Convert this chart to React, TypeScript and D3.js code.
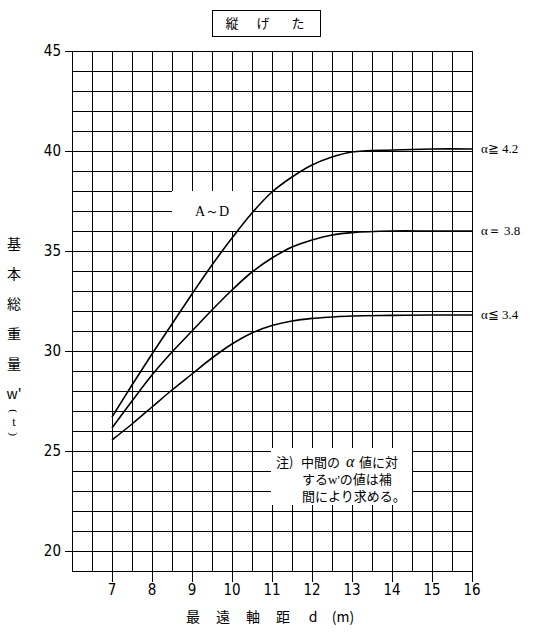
import React from 'react'
import * as d3 from 'd3'

const distances = [7, 7.5, 8, 8.5, 9, 9.5, 10, 10.5, 11, 11.5, 12, 12.5, 13, 14, 15, 16]
const weightHigh = [26.7, 28.3, 29.85, 31.35, 32.85, 34.3, 35.65, 36.9, 37.95, 38.7, 39.3, 39.7, 39.95, 40.05, 40.1, 40.1]
const weightMid = [26.15, 27.5, 28.8, 29.95, 31.0, 32.05, 33.05, 33.95, 34.65, 35.2, 35.55, 35.8, 35.92, 36.0, 36.0, 36.0]
const weightLow = [25.55, 26.35, 27.2, 28.05, 28.85, 29.65, 30.35, 30.9, 31.27, 31.5, 31.63, 31.7, 31.75, 31.78, 31.8, 31.8]
const seriesLabels = ['α≧ 4.2', 'α＝ 3.8', 'α≦ 3.4']
const xTicks = [7, 8, 9, 10, 11, 12, 13, 14, 15, 16]
const yTicks = [20, 25, 30, 35, 40, 45]
const yTitle = ['基', '本', '総', '重', '量', "w'"]
const xTitle = ['最', '遠', '軸', '距', 'd', '(m)']

const jp = '"Noto Sans CJK JP", sans-serif'
const serif = '"Liberation Serif", "DejaVu Serif", serif'
const num = '"Liberation Sans Narrow", "DejaVu Sans Condensed", "Liberation Sans", sans-serif'

export default function App() {
  const width = 535
  const height = 632
  const margin = { top: 51, right: 63, bottom: 61, left: 72 }
  const x = d3.scaleLinear().domain([6, 16]).range([margin.left, width - margin.right])
  const y = d3.scaleLinear().domain([19, 45]).range([height - margin.bottom, margin.top])

  const line = d3.line<[number, number]>()
    .x(d => x(d[0]))
    .y(d => y(d[1]))
    .curve(d3.curveCatmullRom.alpha(0.5))

  const series = [weightHigh, weightMid, weightLow]
  const vGrid = d3.range(6, 16.01, 0.5)
  const hGrid = d3.range(19, 45.01, 1)

  return (
    <svg width={width} height={height} style={{ position: 'absolute', left: 0, top: 0, background: '#fff' }}>
      <rect x={0} y={0} width={width} height={height} fill="#fff" />
      {/* grid */}
      <g stroke="#000" strokeWidth={1} shapeRendering="crispEdges">
        {vGrid.map(v => (
          <line key={'v' + v} x1={x(v)} x2={x(v)} y1={y(19)} y2={y(45)} />
        ))}
        {hGrid.map(v => (
          <line key={'h' + v} x1={x(6)} x2={x(16)} y1={y(v)} y2={y(v)} />
        ))}
        {xTicks.map(t => (
          <line key={'xt' + t} x1={x(t)} x2={x(t)} y1={y(19)} y2={y(19) + 11} />
        ))}
        {yTicks.map(t => (
          <line key={'yt' + t} x1={x(6) - 7} x2={x(6)} y1={y(t)} y2={y(t)} />
        ))}
      </g>

      {/* white label boxes over grid */}
      <rect x={x(8.5)} y={y(38)} width={x(10.5) - x(8.5)} height={y(36) - y(38)} fill="#fff" />
      <text x={(x(8.5) + x(10.5)) / 2} y={y(37) + 5} textAnchor="middle" fontFamily={serif} fontSize={14}>A～D</text>

      <rect x={271} y={448} width={141} height={57} fill="#fff" />
      <g fontFamily={jp} fontSize={13}>
        <text x={276} y={467}>注)</text>
        <text x={301} y={467}>中間の</text>
        <text x={346} y={467} fontFamily={serif} fontStyle="italic" fontSize={16}>α</text>
        <text x={359} y={467}>値に対</text>
        <text x={302} y={484}>する<tspan fontFamily={serif}>w'</tspan>の値は補</text>
        <text x={302} y={501}>間により求める。</text>
      </g>

      {/* curves */}
      {series.map((s, i) => (
        <path key={i} d={line(distances.map((d, j) => [d, s[j]] as [number, number])) || ''}
          fill="none" stroke="#000" strokeWidth={1.6} />
      ))}
      {series.map((s, i) => (
        <text key={'l' + i} x={481} y={y(s[s.length - 1]) + 4} fontFamily={serif} fontSize={13}>
          {seriesLabels[i]}
        </text>
      ))}

      {/* axis labels */}
      <g fontFamily={num} fontSize={15} fill="#000">
        {yTicks.map(t => (
          <text key={'yl' + t} x={61} y={y(t) + 5} textAnchor="end">{t}</text>
        ))}
        {xTicks.map(t => (
          <text key={'xl' + t} x={x(t)} y={595} textAnchor="middle">{t}</text>
        ))}
      </g>

      {/* title */}
      <rect x={212} y={10} width={108} height={26} fill="#fff" stroke="#000" strokeWidth={1} shapeRendering="crispEdges" />
      <g fontFamily={jp} fontSize={13} textAnchor="middle">
        <text x={232} y={28}>縦</text>
        <text x={263} y={28}>げ</text>
        <text x={298} y={28}>た</text>
      </g>

      {/* y title */}
      <g fontFamily={jp} fontSize={14} textAnchor="middle">
        {yTitle.map((c, i) => (
          <text key={'yc' + i} x={14} y={249 + i * 30}>{c}</text>
        ))}
        <text transform="translate(14,411) rotate(90)" dy="4" fontSize={11} fontFamily={serif}>(</text>
        <text x={14} y={426} fontSize={12} fontFamily={serif}>t</text>
        <text transform="translate(14,434) rotate(90)" dy="4" fontSize={11} fontFamily={serif}>)</text>
      </g>

      {/* x title */}
      <g fontFamily={jp} fontSize={14} textAnchor="middle">
        {xTitle.map((c, i) => (
          <text key={'xc' + i} x={193 + i * 30} y={622}>{c}</text>
        ))}
      </g>
    </svg>
  )
}
